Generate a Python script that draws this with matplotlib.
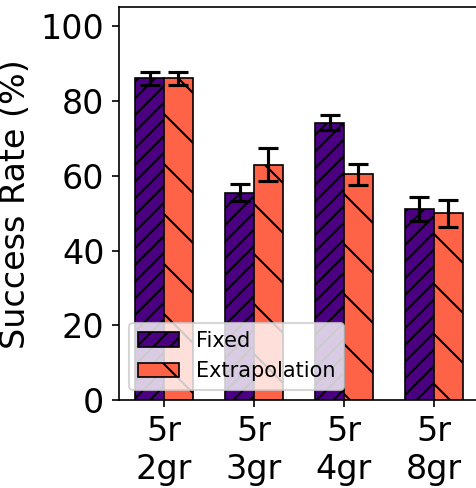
import matplotlib
matplotlib.use("Agg")
import matplotlib.pyplot as plt
import numpy as np

categories = ["5r\n2gr", "5r\n3gr", "5r\n4gr", "5r\n8gr"]
fixed_vals = [86.0, 55.4, 74.1, 51.1]
fixed_err = [1.8, 2.3, 2.0, 3.3]
extrap_vals = [86.0, 62.9, 60.4, 50.0]
extrap_err = [1.8, 4.4, 2.8, 3.6]
series_labels = ["Fixed", "Extrapolation"]
yticks = [0, 20, 40, 60, 80, 100]

DPI = 150
fig = plt.figure(figsize=(476 / DPI, 488 / DPI), dpi=DPI)
ax = fig.add_axes([0.25, 0.18, 0.756, 0.805])

x = np.arange(len(categories))
w = 0.32
ax.bar(x - w / 2, fixed_vals, w, yerr=fixed_err, capsize=5,
       color="#4B0082", edgecolor="black", linewidth=0.8, hatch="///",
       label=series_labels[0], error_kw=dict(elinewidth=1.5, capthick=1.5))
ax.bar(x + w / 2, extrap_vals, w, yerr=extrap_err, capsize=5,
       color="#FF6347", edgecolor="black", linewidth=0.8, hatch="\\",
       label=series_labels[1], error_kw=dict(elinewidth=1.5, capthick=1.5))

ax.set_xticks(x)
ax.set_xticklabels(categories)
ax.set_yticks(yticks)
ax.set_xlim(-0.5, 3.5)
ax.set_ylim(0, 105)
ax.tick_params(axis="both", labelsize=16)
ax.set_ylabel("Success Rate (%)", fontsize=16)
ax.legend(loc="lower left", fontsize=10)

fig.savefig("out.png", dpi=DPI)
